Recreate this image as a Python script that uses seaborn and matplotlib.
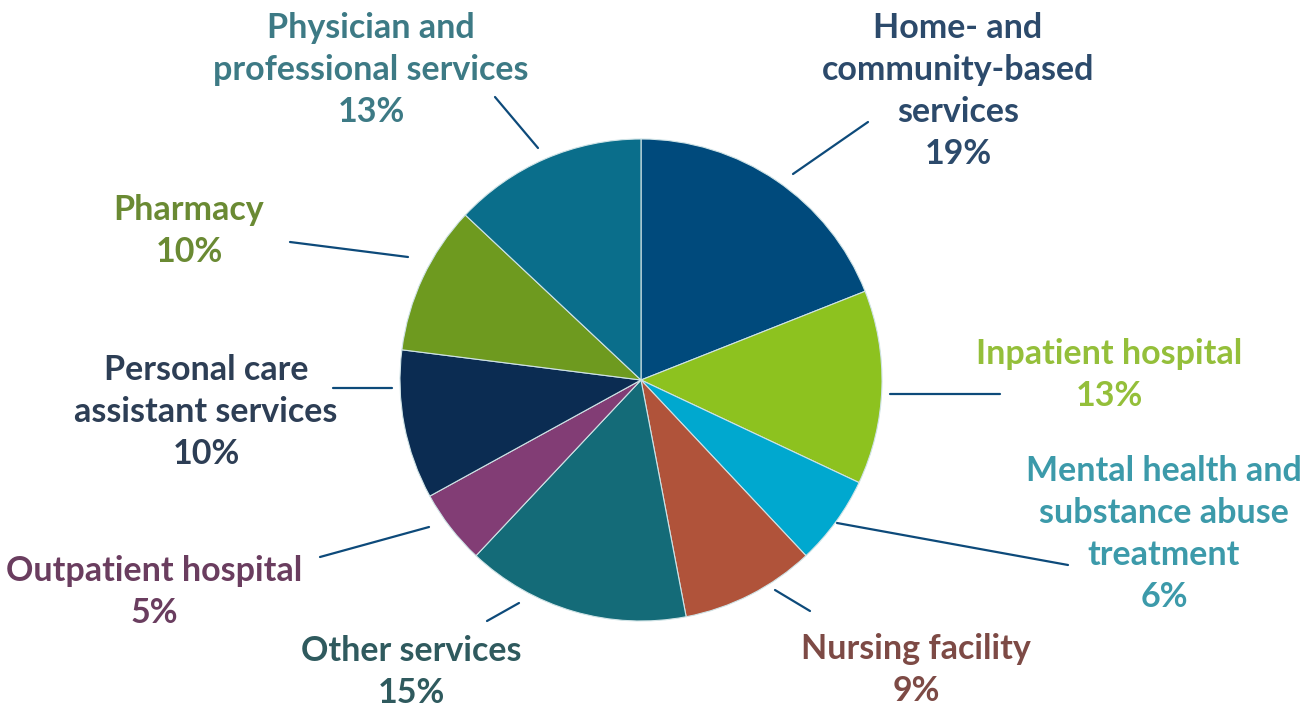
import matplotlib
matplotlib.use("Agg")
import matplotlib.pyplot as plt
import seaborn as sns

categories = [
    "Home- and\ncommunity-based\nservices",
    "Inpatient hospital",
    "Mental health and\nsubstance abuse\ntreatment",
    "Nursing facility",
    "Other services",
    "Outpatient hospital",
    "Personal care\nassistant services",
    "Pharmacy",
    "Physician and\nprofessional services",
]
values = [19, 13, 6, 9, 15, 5, 10, 10, 13]
slice_colors = ["#004a7c", "#8dc21f", "#00a8cf", "#b0533a", "#146b78",
                "#823d75", "#0b2c52", "#6e9a1f", "#0a6e8b"]
text_colors = ["#2c4a6b", "#94bf3a", "#3c9aaa", "#7d4a45", "#2f5a5e",
               "#6a3d5f", "#2d3e55", "#6a8a33", "#3d7a85"]

W, H = 1306, 709
# layout (pixel positions, y measured from top)
label_pos = [(958, 91), (1109, 375), (1164, 534), (916, 670), (411, 672),
             (154, 592), (206, 412), (189, 231), (371, 70)]
leader = [((868, 122), (793, 174)), ((1000, 394), (890, 394)),
          ((1068, 565), (837, 523)), ((810, 611), (775, 590)),
          ((487, 621), (519, 603)), ((320, 557), (429, 527)),
          ((333, 388), (392, 388)), ((290, 242), (408, 257)),
          ((495, 97), (538, 148))]

sns.set_theme(style="white")
plt.rcParams["font.family"] = ["Lato", "DejaVu Sans"]

fig = plt.figure(figsize=(W / 100, H / 100), dpi=100)
ax = fig.add_axes([0, 0, 1, 1])

palette = sns.color_palette(slice_colors)
ax.pie(values, colors=palette, startangle=90, counterclock=False,
       center=(641, H - 380), radius=241,
       wedgeprops=dict(edgecolor="#cfe3e6", linewidth=0.8))

ax.set_xlim(0, W)
ax.set_ylim(0, H)
ax.set_aspect("equal")
ax.axis("off")

for cat, v, (x, y), c in zip(categories, values, label_pos, text_colors):
    ax.text(x, H - y, f"{cat}\n{v}%", ha="center", va="center",
            fontsize=24.5, fontweight="bold", color=c, linespacing=1.38)

for (p0, p1) in leader:
    ax.plot([p0[0], p1[0]], [H - p0[1], H - p1[1]], color="#0d4a7a", lw=1.6)

fig.savefig("out.png", dpi=100, facecolor="white")
